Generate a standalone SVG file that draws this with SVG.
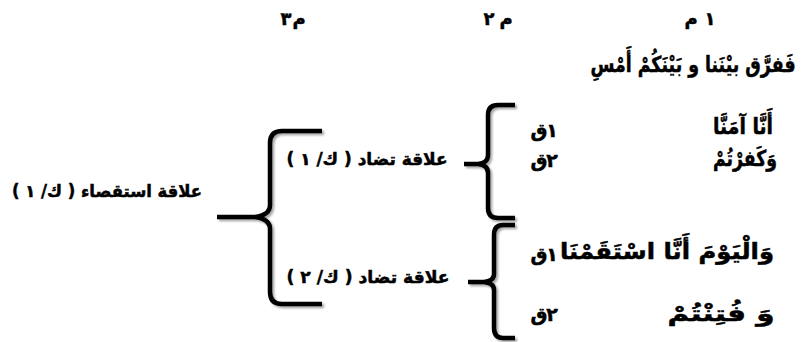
<svg xmlns="http://www.w3.org/2000/svg" width="802" height="342" viewBox="0 0 802 342">
<defs>
<filter id="sh" x="-20%" y="-20%" width="140%" height="140%">
<feGaussianBlur in="SourceAlpha" stdDeviation="1.2"/>
<feOffset dx="1.5" dy="1.5" result="b"/>
<feComponentTransfer><feFuncA type="linear" slope="0.35"/></feComponentTransfer>
<feMerge><feMergeNode/><feMergeNode in="SourceGraphic"/></feMerge>
</filter>
</defs>
<style>
text{font-family:"DejaVu Sans",sans-serif;font-weight:bold;fill:#000;text-anchor:middle;stroke:#000;stroke-width:0.5}
.h{font-size:18px}
.r{font-size:22px}
.q{font-size:19px}
.l{font-size:17px}
.br{fill:none;stroke:#000;stroke-width:4.5;stroke-linecap:butt;stroke-linejoin:round}
</style>
<rect width="802" height="342" fill="#fff"/>
<g id="connectors" filter="url(#sh)">
<path class="br" d="M515,105 H498 Q488,105 488,115 V155 Q488,163 478,164 H464 M478,164 Q488,165 488,173 V208 Q488,218 498,218 H515"/>
<path class="br" d="M515,225 H503 Q494,225 494,235 V274 Q494,281 484,282 H468 M484,282 Q494,283 494,290 V328 Q494,338 503,338 H515"/>
<path class="br" d="M322,131 H282 Q270,131 270,143 V205 Q270,215 255,217 H217 M255,217 Q270,219 270,229 V292 Q270,304 282,304 H322"/>
</g>
<g id="h1"><text class="h" x="691" y="25">م</text><text class="h" x="710" y="25">١</text></g>
<g id="h2"><text class="h" x="489" y="25">٢</text><text class="h" x="506" y="25">م</text></g>
<g id="h3"><text class="h" x="286" y="25">٣</text><text class="h" x="299" y="25">م</text></g>
<g id="row0"><text class="r" x="693" y="72" textLength="205" lengthAdjust="spacingAndGlyphs">فَفرَّق بيْنَنا و بَيْنَكُمْ أَمْسِ</text></g>
<g id="row1"><text class="r" x="743" y="134" textLength="60" lengthAdjust="spacingAndGlyphs">أَنَّا آمَنَّا</text><text class="q" x="539" y="137">ق</text><text class="q" x="552" y="137">١</text></g>
<g id="row2"><text class="r" x="745" y="166" textLength="64" lengthAdjust="spacingAndGlyphs">وَكَفرْتُمْ</text><text class="q" x="539" y="167">ق</text><text class="q" x="552" y="167">٢</text></g>
<g id="row3"><text class="r" x="667" y="259" textLength="214" lengthAdjust="spacingAndGlyphs">وَالْيَوْمَ أَنَّا اسْتَقَمْنَا</text><text class="q" x="539" y="261">ق</text><text class="q" x="552" y="261">١</text></g>
<g id="row4"><text class="r" x="721" y="321" textLength="107" lengthAdjust="spacingAndGlyphs">وَ فُتِنْتُمْ</text><text class="q" x="539" y="321">ق</text><text class="q" x="552" y="321">٢</text></g>
<g id="tadad1"><text class="l" x="367" y="165" textLength="161" lengthAdjust="spacingAndGlyphs">&#x202B;علاقة تضاد ( ك/ ١ )&#x202C;</text></g>
<g id="tadad2"><text class="l" x="368" y="283" textLength="163" lengthAdjust="spacingAndGlyphs">&#x202B;علاقة تضاد ( ك/ ٢ )&#x202C;</text></g>
<g id="istiqsa"><text class="l" x="107" y="197" textLength="190" lengthAdjust="spacingAndGlyphs">&#x202B;علاقة استقصاء ( ك/ ١ )&#x202C;</text></g>
</svg>
